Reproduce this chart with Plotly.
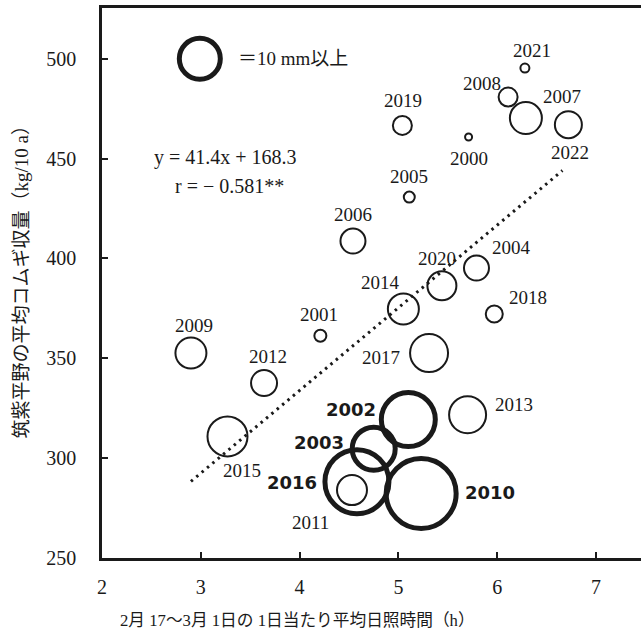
import plotly.graph_objects as go

# ---- data ----
years = [2000, 2001, 2002, 2003, 2004, 2005, 2006, 2007, 2008, 2009, 2010, 2011,
         2012, 2013, 2014, 2015, 2016, 2017, 2018, 2019, 2020, 2021, 2022]
sunshine = [5.71, 4.21, 5.10, 4.75, 5.79, 5.11, 4.54, 6.29, 6.11, 2.90, 5.23, 4.53,
            3.64, 5.70, 5.05, 3.27, 4.58, 5.31, 5.97, 5.04, 5.44, 6.28, 6.72]
yield_kg = [460.8, 361.3, 319.3, 304.7, 395.2, 430.7, 408.7, 470.3, 480.8, 352.6, 282.3, 284.0,
            337.6, 321.7, 374.7, 310.9, 288.2, 352.6, 372.2, 466.6, 386.3, 495.3, 467.0]
bubble = [7, 12, 54, 43, 25, 11, 25, 32, 19, 31, 70, 30,
          26, 37, 31, 40, 64, 38, 17, 19, 29, 9, 27]
heavy_rain = [False, False, True, True, False, False, False, False, False, False, True, False,
              False, False, False, False, True, False, False, False, False, False, False]

slope, intercept = 41.4, 168.3
trend_x = [2.90, 6.66]
eq_text = "y = 41.4x + 168.3"
r_text = "r = − 0.581**"

x_ticks = [2, 3, 4, 5, 6, 7]
y_ticks = [250, 300, 350, 400, 450, 500]

# label offsets (px) relative to each bubble centre
label_off = {
    2000: (0, 21), 2001: (-1, -21), 2002: (-57, -10), 2003: (-55, -6), 2004: (35, -21),
    2005: (0, -21), 2006: (0, -27), 2007: (36, -22), 2008: (-26, -14), 2009: (3, -28),
    2010: (69, -1), 2011: (-41, 32), 2012: (4, -27), 2013: (46, -10), 2014: (-23, -26),
    2015: (15, 34), 2016: (-65, 1), 2017: (-48, 4), 2018: (34, -16), 2019: (1, -25),
    2020: (-5, -27), 2021: (7, -18), 2022: (2, 28),
}

SERIF = "Liberation Serif, Noto Sans CJK JP, serif"
INK = "#1a1a1a"

fig = go.Figure()

# trend line
fig.add_trace(go.Scatter(
    x=trend_x, y=[slope * v + intercept for v in trend_x], mode="lines",
    line=dict(color=INK, width=3, dash="2.5px,4.5px"), hoverinfo="skip", showlegend=False))

thin_idx = [i for i in range(len(years)) if not heavy_rain[i]]
bold_idx = [i for i in range(len(years)) if heavy_rain[i]]

fig.add_trace(go.Scatter(
    x=[sunshine[i] for i in thin_idx], y=[yield_kg[i] for i in thin_idx], mode="markers",
    marker=dict(size=[bubble[i] for i in thin_idx], color="rgba(0,0,0,0)", opacity=1,
                line=dict(color=INK, width=2)),
    cliponaxis=False, showlegend=False))
fig.add_trace(go.Scatter(
    x=[sunshine[i] for i in bold_idx], y=[yield_kg[i] for i in bold_idx], mode="markers",
    marker=dict(size=[bubble[i] for i in bold_idx], color="rgba(0,0,0,0)", opacity=1,
                line=dict(color=INK, width=5)),
    cliponaxis=False, showlegend=False))

# legend key circle
fig.add_trace(go.Scatter(
    x=[2.99], y=[500], mode="markers",
    marker=dict(size=41, color="rgba(0,0,0,0)", opacity=1, line=dict(color=INK, width=5)),
    cliponaxis=False, showlegend=False))

ann = []
for i, yr in enumerate(years):
    dx, dy = label_off[yr]
    if heavy_rain[i]:
        font = dict(family="DejaVu Sans, sans-serif", size=18, color=INK, weight="bold")
    else:
        font = dict(family=SERIF, size=19, color=INK)
    ann.append(dict(x=sunshine[i], y=yield_kg[i], text=str(yr), showarrow=False,
                    xshift=dx, yshift=-dy, font=font, xanchor="center", yanchor="middle"))

ann.append(dict(x=3.25, y=450.3, text=eq_text, showarrow=False,
                font=dict(family=SERIF, size=20, color=INK)))
ann.append(dict(x=3.29, y=436.1, text=r_text, showarrow=False,
                font=dict(family=SERIF, size=20, color=INK)))
ann.append(dict(x=3.356, y=500, text="＝10 mm以上", showarrow=False, xanchor="left",
                font=dict(family=SERIF, size=19, color=INK)))

ann.append(dict(xref="paper", yref="paper", x=0.3618, y=-0.1145,
                text="2月 17～3月 1日の 1日当たり平均日照時間（h）", showarrow=False,
                font=dict(family=SERIF, size=16.7, color=INK), xanchor="center", yanchor="middle"))
ann.append(dict(xref="paper", yref="paper", x=-0.1494, y=0.511,
                text="筑紫平野の平均コムギ収量（kg/10 a）", showarrow=False, textangle=-90,
                font=dict(family=SERIF, size=19, color=INK), xanchor="center", yanchor="middle"))

fig.update_layout(
    width=641, height=638,
    margin=dict(l=102, r=0, t=8, b=80),
    plot_bgcolor="white", paper_bgcolor="white",
    annotations=ann, showlegend=False,
)
fig.update_xaxes(
    range=[2, 7.455], tickvals=x_ticks, ticktext=[str(v) for v in x_ticks],
    showgrid=False, zeroline=False, showline=True, linecolor=INK, linewidth=2.5,
    mirror=True, ticks="inside", ticklen=6, tickwidth=2, tickcolor=INK,
    tickfont=dict(family=SERIF, size=20, color=INK), ticklabelstandoff=9)
fig.update_yaxes(
    range=[250, 525.4], tickvals=y_ticks, ticktext=[str(v) for v in y_ticks],
    showgrid=False, zeroline=False, showline=True, linecolor=INK, linewidth=2.5,
    ticks="inside", ticklen=6, tickwidth=2, tickcolor=INK,
    tickfont=dict(family=SERIF, size=20, color=INK), ticklabelstandoff=19)

fig.write_html("out.html")
